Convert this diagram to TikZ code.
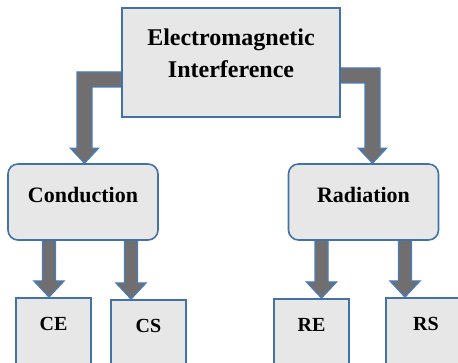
\documentclass[tikz,border=0pt]{standalone}
\usepackage{fontspec}
\setmainfont{Liberation Serif}
\usepackage{tikz}
\usetikzlibrary{calc,backgrounds}
\definecolor{boxblue}{RGB}{66,114,168}
\definecolor{boxgray}{RGB}{231,231,231}
\definecolor{arrowgray}{RGB}{112,110,110}
\definecolor{arrowblue}{RGB}{74,124,184}
\tikzset{
    topbox/.style={rectangle, draw=boxblue, line width=1.6pt, fill=boxgray, minimum width=218pt, minimum height=109pt, inner sep=0pt, align=center, font=\fontsize{24}{32}\selectfont\bfseries},
    midbox/.style={rectangle, rounded corners=10pt, draw=boxblue, line width=1.6pt, fill=boxgray, minimum width=150pt, minimum height=76pt, inner sep=0pt, text depth=15pt, font=\fontsize{22}{26}\selectfont\bfseries},
    leafbox/.style={rectangle, draw=boxblue, line width=1.6pt, fill=boxgray, anchor=north, minimum width=75pt, inner sep=0pt, text height=33pt, text depth=50pt, font=\fontsize{20}{24}\selectfont\bfseries},
    blockarrow/.style={draw=arrowblue, fill=arrowgray, line width=1.3pt, line join=miter},
}
\newcommand{\blockdown}[2]{%
  \draw[blockarrow] ($(#1)+(-6.5,0)$) -- ($(#2)+(-6.5,16)$) -- ($(#2)+(-15,16)$) -- (#2)
    -- ($(#2)+(15,16)$) -- ($(#2)+(6.5,16)$) -- ($(#1)+(6.5,0)$) -- cycle;}

\begin{document}
\begin{tikzpicture}[x=1pt, y=1pt]
\useasboundingbox (0,0) rectangle (458,363);
\clip (0,0) rectangle (458,363);

% Nodes
\node[topbox] (emi) at (231,300.5) {Electromagnetic\\Interference\rule[-19pt]{0pt}{1pt}};
\node[midbox] (cond) at (83,161) {Conduction};
\node[midbox] (rad) at (363.5,161) {Radiation};
\node[leafbox] (ce) at (53.5,66) {CE};
\node[leafbox] (cs) at (148.5,64) {CS};
\node[leafbox] (re) at (311.5,65) {RE};
\node[leafbox, minimum width=80pt] (rs) at (426,66) {RS};

% Arrows
\begin{scope}[on background layer]
\coordinate (l arm) at ($(emi.west)+(3,-17)$);
\coordinate (l tip) at ($(cond.north)+(1.5,0)$);
\draw[blockarrow] ($(l arm)+(0,7.5)$) -- ($(l tip |- l arm)+(-7.5,7.5)$) -- ($(l tip)+(-7.5,15)$)
  -- ($(l tip)+(-14,15)$) -- (l tip) -- ($(l tip)+(14,15)$) -- ($(l tip)+(7.5,15)$)
  -- ($(l tip |- l arm)+(7.5,-7.5)$) -- ($(l arm)+(0,-7.5)$) -- cycle;

\coordinate (r arm) at ($(emi.east)+(-3,-13)$);
\coordinate (r tip) at ($(rad.north)+(9,0)$);
\draw[blockarrow] ($(r arm)+(0,7.5)$) -- ($(r tip |- r arm)+(7.5,7.5)$) -- ($(r tip)+(7.5,15)$)
  -- ($(r tip)+(14,15)$) -- (r tip) -- ($(r tip)+(-14,15)$) -- ($(r tip)+(-7.5,15)$)
  -- ($(r tip |- r arm)+(-7.5,-7.5)$) -- ($(r arm)+(0,-7.5)$) -- cycle;

\coordinate (ce from) at ($(cond.south)+(-34,3)$);
\coordinate (ce tip) at (ce from |- ce.north);
\coordinate (cs from) at ($(cond.south)+(48,3)$);
\coordinate (cs tip) at (cs from |- cs.north);
\coordinate (re from) at ($(rad.south)+(-42,3)$);
\coordinate (re tip) at (re from |- re.north);
\coordinate (rs from) at ($(rad.south)+(41.5,3)$);
\coordinate (rs tip) at (rs from |- rs.north);
\blockdown{ce from}{ce tip}
\blockdown{cs from}{cs tip}
\blockdown{re from}{re tip}
\blockdown{rs from}{rs tip}
\end{scope}

\end{tikzpicture}
\end{document}
